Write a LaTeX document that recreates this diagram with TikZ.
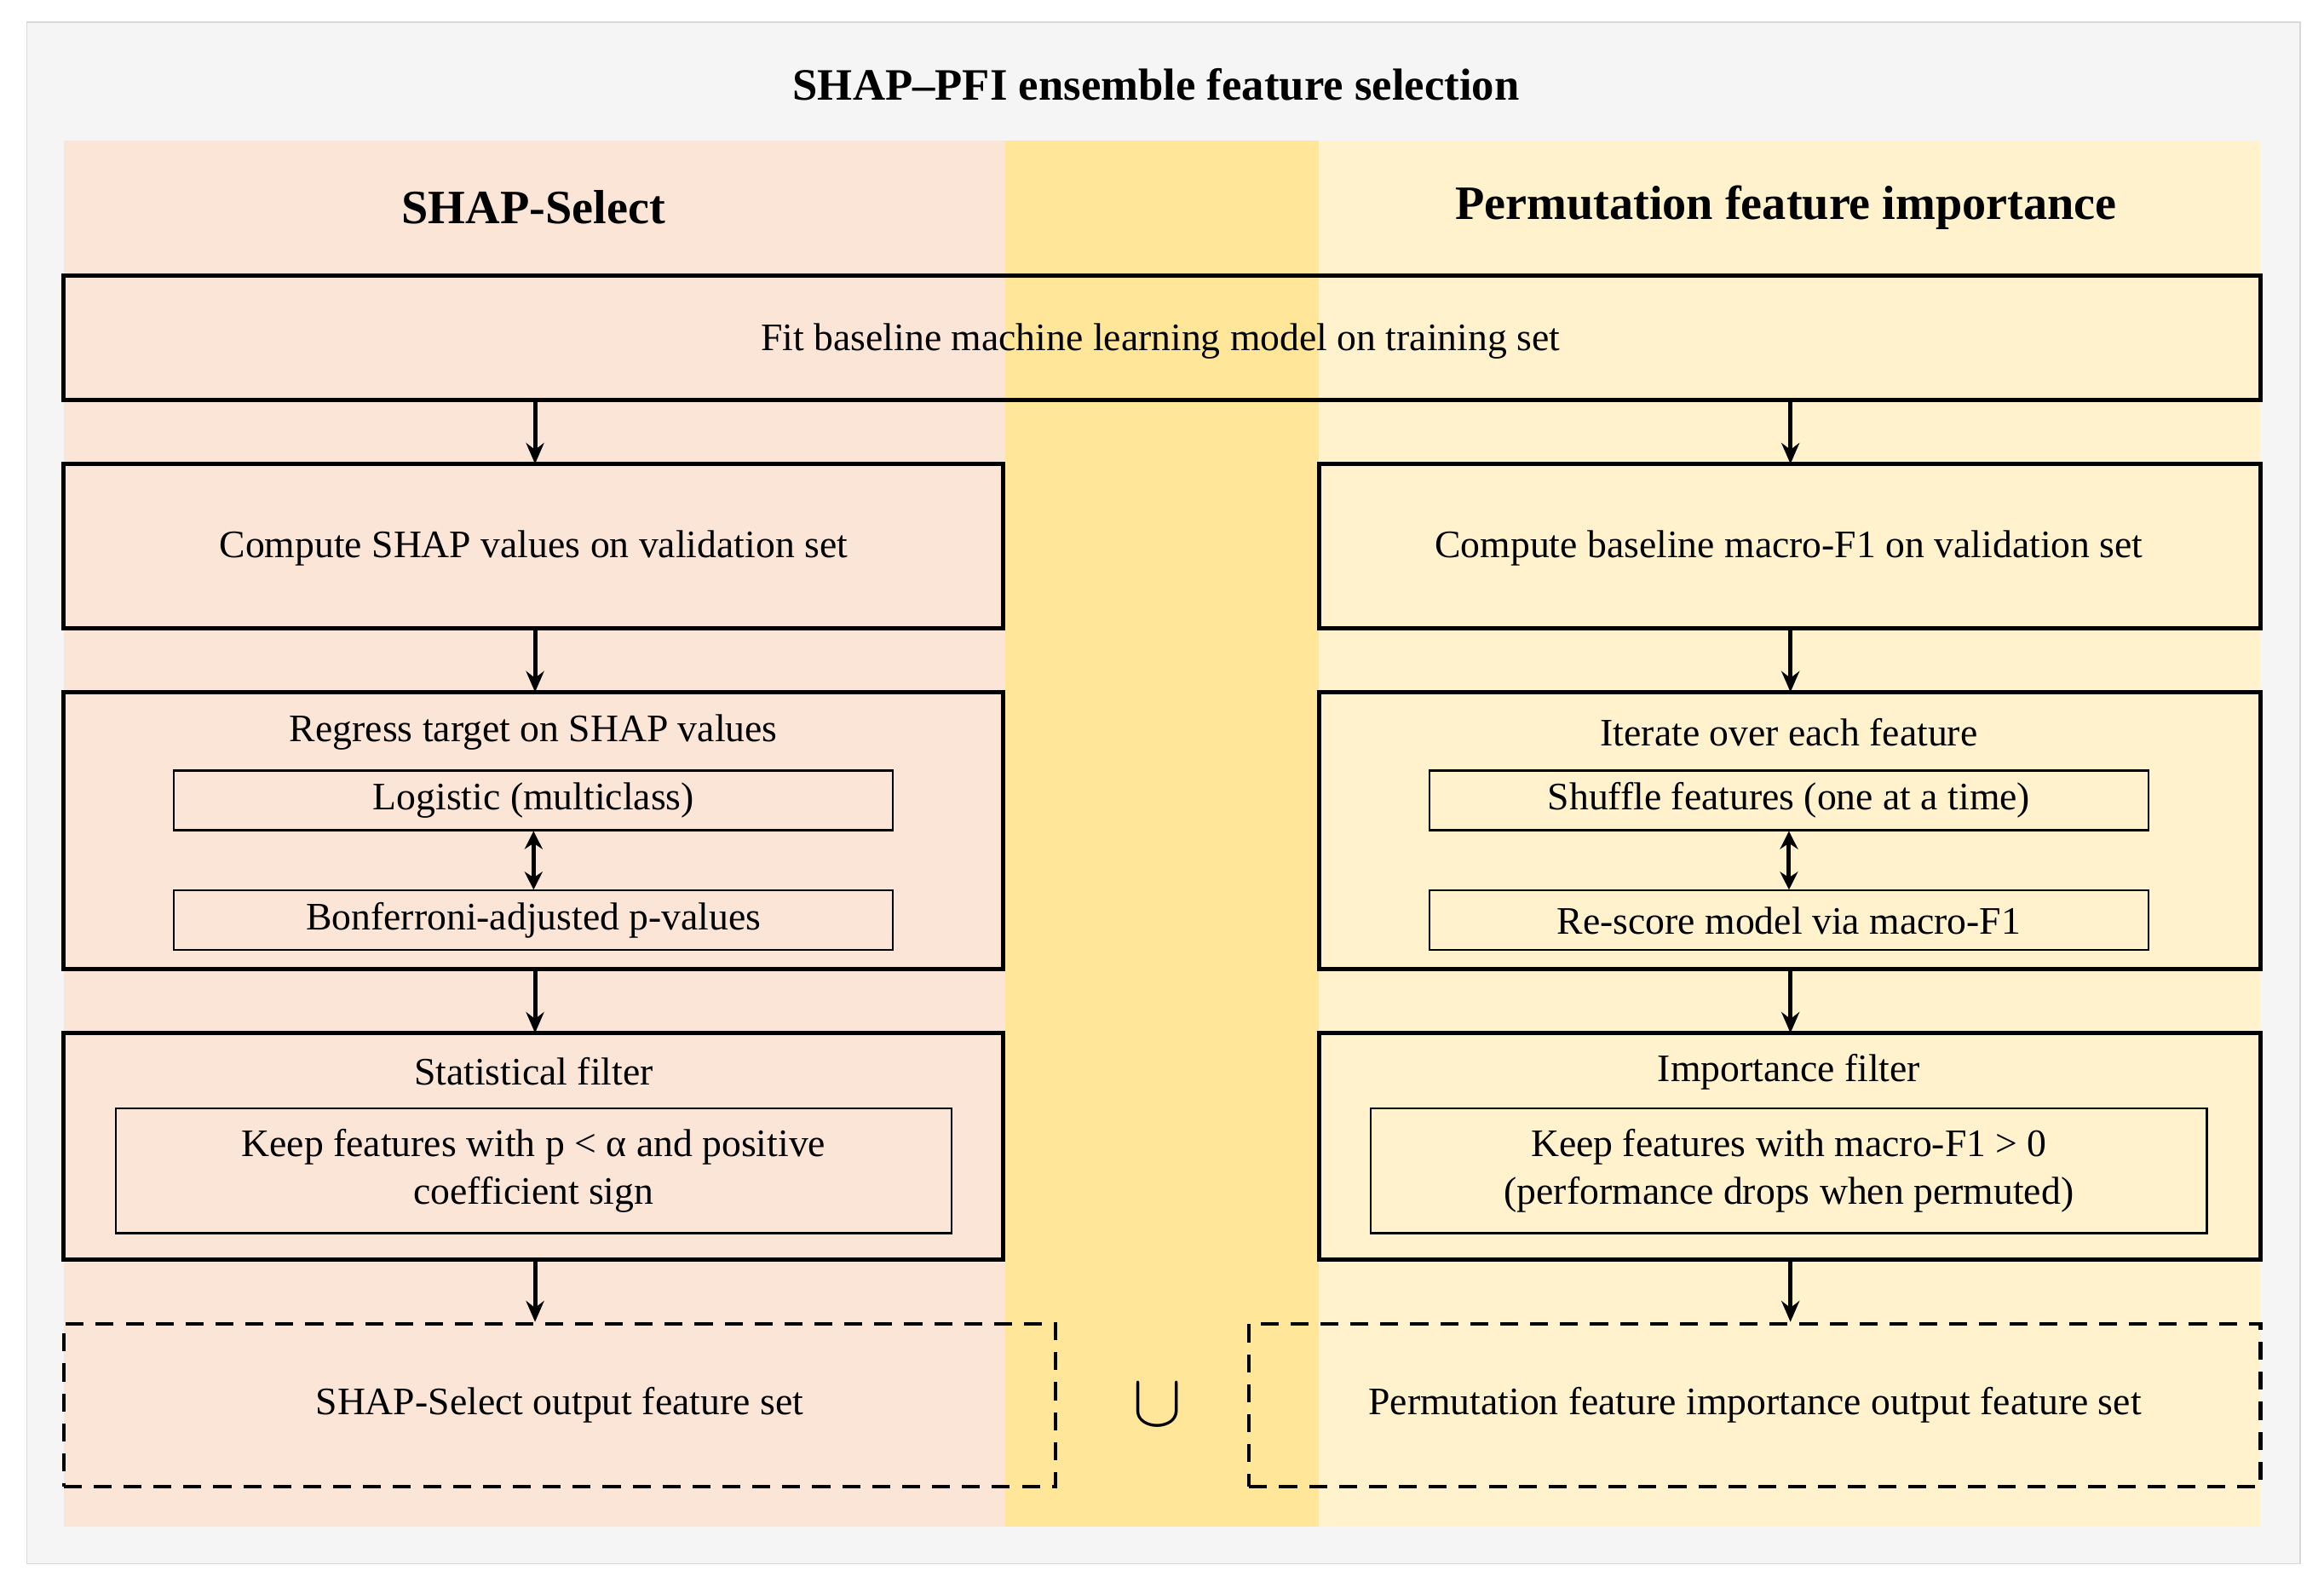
\documentclass[tikz,border=0pt]{standalone}
\usepackage{fontspec}
\setmainfont{Liberation Serif}
\usetikzlibrary{arrows.meta}
\definecolor{peach}{HTML}{FBE5D6}
\definecolor{midyel}{HTML}{FFE699}
\definecolor{lightyel}{HTML}{FFF2CC}
\tikzset{
	box/.style={draw, line width=1.4pt, align=center, font=\fontsize{13}{16}\selectfont},
	inbox/.style={draw, line width=0.6pt, inner sep=0pt, align=center, font=\fontsize{13}{16}\selectfont},
	outbox/.style={draw, line width=1.2pt, inner sep=0pt, dash pattern=on 6pt off 4pt, align=center, font=\fontsize{13}{16}\selectfont},
	flow/.style={-{Stealth[length=7pt,width=6pt]}, line width=1.4pt},
	both/.style={{Stealth[length=6pt,width=6pt]}-{Stealth[length=6pt,width=6pt]}, line width=1.4pt}
}
\begin{document}
\begin{tikzpicture}[x=0.0174cm,y=-0.0174cm]
	\useasboundingbox (0,0) rectangle (1568,1071);
	% background and bands
	\fill[white] (0,0) rectangle (1568,1071);
	\draw[fill=gray!8, draw=gray!30] (18,15) rectangle (1552,1055);
	\fill[peach] (43,95) rectangle (678,1030);
	\fill[midyel] (678,95) rectangle (890,1030);
	\fill[lightyel] (890,95) rectangle (1525,1030);
	\node[font=\fontsize{15}{18}\selectfont\bfseries] (title) at (780,57) {SHAP–PFI ensemble feature selection};
	\node[font=\fontsize{16}{19}\selectfont\bfseries] (hl) at (360,140) {SHAP-Select};
	\node[font=\fontsize{16}{19}\selectfont\bfseries] (hr) at (1205,140) {Permutation feature importance};
	% top box
	\draw[box] (43,186) rectangle (1525,270);
	\node[font=\fontsize{13}{16}\selectfont] (fit) at (783,230) {Fit baseline machine learning model on training set};
	\coordinate (fl) at (361,270);
	\coordinate (fr) at (1208,270);
	% left column
	\draw[box] (43,313) rectangle (677,424);
	\node[font=\fontsize{13}{16}\selectfont] (shap) at (360,370) {Compute SHAP values on validation set};
	\draw[box] (43,467) rectangle (677,654);
	\node[font=\fontsize{13}{16}\selectfont] (regr) at (360,494) {Regress target on SHAP values};
	\node[inbox, minimum width=8.44cm, minimum height=0.7cm] (logi) at (360,540) {Logistic (multiclass)};
	\node[inbox, minimum width=8.44cm, minimum height=0.7cm] (bonf) at (360,621) {Bonferroni-adjusted p-values};
	\draw[box] (43,697) rectangle (677,850);
	\node[font=\fontsize{13}{16}\selectfont] (stat) at (360,723) {Statistical filter};
	\node[inbox, minimum width=9.81cm, minimum height=1.46cm] (keepl) at (360,790) {Keep features with p < α and positive\\coefficient sign};
	\node[outbox, minimum width=11.64cm, minimum height=1.91cm] (outl) at (377.5,948) {SHAP-Select output feature set};
	% right column
	\draw[box] (890,313) rectangle (1525,424);
	\node[font=\fontsize{13}{16}\selectfont] (base) at (1207,370) {Compute baseline macro-F1 on validation set};
	\draw[box] (890,467) rectangle (1525,654);
	\node[font=\fontsize{13}{16}\selectfont] (iter) at (1207,494) {Iterate over each feature};
	\node[inbox, minimum width=8.44cm, minimum height=0.7cm] (shuf) at (1207,540) {Shuffle features (one at a time)};
	\node[inbox, minimum width=8.44cm, minimum height=0.7cm] (resc) at (1207,621) {Re-score model via macro-F1};
	\draw[box] (890,697) rectangle (1525,850);
	\node[font=\fontsize{13}{16}\selectfont] (imp) at (1207,723) {Importance filter};
	\node[inbox, minimum width=9.81cm, minimum height=1.46cm] (keepr) at (1207,790) {Keep features with macro-F1 > 0\\(performance drops when permuted)};
	\node[outbox, minimum width=11.87cm, minimum height=1.91cm] (outr) at (1184,948) {Permutation feature importance output feature set};
	\node[font=\fontsize{30}{30}\selectfont] (cup) at (781,948) {$\cup$};
	% arrows
	\draw[flow] (fl) -- (361,313);
	\draw[flow] (fr) -- (1208,313);
	\draw[flow] (361,424) -- (361,467);
	\draw[flow] (1208,424) -- (1208,467);
	\draw[both] (logi) -- (bonf);
	\draw[both] (shuf) -- (resc);
	\draw[flow] (361,654) -- (361,697);
	\draw[flow] (1208,654) -- (1208,697);
	\draw[flow] (361,850) -- (outl.north -| 361,0);
	\draw[flow] (1208,850) -- (outr.north -| 1208,0);
\end{tikzpicture}
\end{document}
